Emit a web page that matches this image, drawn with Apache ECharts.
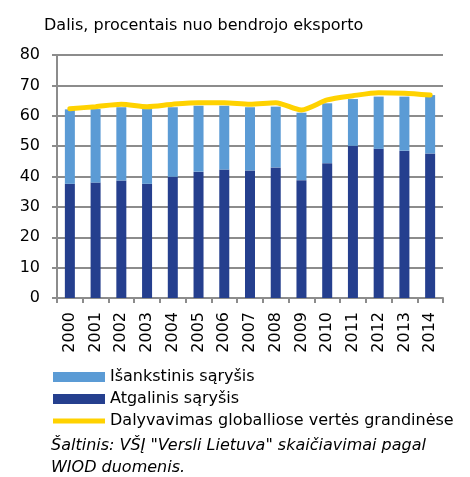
<!DOCTYPE html>
<html>
<head>
<meta charset="utf-8">
<script src="https://cdn.jsdelivr.net/npm/echarts@6/dist/echarts.min.js"></script>
<style>
  html, body { margin: 0; padding: 0; background: #fff; }
  #chart { width: 470px; height: 477px; }
</style>
</head>
<body>
<div id="chart"></div>
<script>
// metai
const years = ['2000','2001','2002','2003','2004','2005','2006','2007','2008','2009','2010','2011','2012','2013','2014'];
// atgalinis sąryšis (apačia)
const backward = [37.6, 38.0, 38.7, 37.6, 39.9, 41.6, 42.3, 42.0, 43.0, 38.8, 44.4, 50.1, 49.1, 48.5, 47.6];
// išankstinis sąryšis (viršus)
const forward = [24.5, 24.2, 24.1, 24.6, 22.9, 21.7, 21.0, 20.8, 20.0, 22.2, 19.7, 15.4, 17.2, 17.8, 19.2];
// dalyvavimas GVG
const participation = [62.3, 63.0, 63.8, 63.0, 63.8, 64.3, 64.3, 63.8, 64.3, 61.9, 65.2, 66.6, 67.6, 67.4, 66.8];
const yTicks = [0, 80, 10];

const font = 'DejaVu Sans';
// legendos linijos ikona (su tuščiu rėmu, kad nebūtų ištempta)
const lineIcon = 'path://M0,0h52v0.01h-52z M0,2.5h52v5h-52z M0,9.99h52v0.01h-52z';

const chart = echarts.init(document.getElementById('chart'));
chart.setOption({
  animation: false,
  textStyle: { fontFamily: font },
  title: [
    { text: 'Dalis, procentais nuo bendrojo eksporto', left: 39, top: 13,
      textStyle: { fontSize: 16, fontWeight: 'normal', color: '#000', fontFamily: font } },
    { text: 'Šaltinis: VŠĮ "Versli Lietuva" skaičiavimai pagal\nWIOD duomenis.', left: 46, top: 430,
      textStyle: { fontSize: 16, fontWeight: 'normal', fontStyle: 'italic', color: '#000', lineHeight: 22, fontFamily: font } }
  ],
  grid: { left: 57, right: 27, top: 55, bottom: 179 },
  legend: {
    orient: 'vertical', left: 48, top: 362, itemWidth: 52, itemHeight: 10, itemGap: 2,
    textStyle: { fontSize: 16, color: '#000', lineHeight: 20, fontFamily: font },
    data: [
      { name: 'Išankstinis sąryšis', icon: 'rect' },
      { name: 'Atgalinis sąryšis', icon: 'rect' },
      { name: 'Dalyvavimas globalliose vertės grandinėse', icon: lineIcon }
    ]
  },
  xAxis: {
    type: 'category', data: years,
    axisLine: { lineStyle: { color: '#8c8c8c', width: 2 } },
    axisTick: { show: true, length: 5, lineStyle: { color: '#8c8c8c', width: 2 } },
    axisLabel: { rotate: 90, fontSize: 16, color: '#000', margin: 14, fontFamily: font }
  },
  yAxis: {
    type: 'value', min: yTicks[0], max: yTicks[1], interval: yTicks[2],
    axisLine: { show: true, lineStyle: { color: '#8c8c8c', width: 2 } },
    axisTick: { show: true, length: 5, lineStyle: { color: '#8c8c8c', width: 2 } },
    axisLabel: { fontSize: 16, color: '#000', margin: 17, fontFamily: font },
    splitLine: { lineStyle: { color: '#8c8c8c', width: 2 } }
  },
  series: [
    { name: 'Atgalinis sąryšis', type: 'bar', stack: 'total', data: backward, barWidth: 10,
      itemStyle: { color: '#253f8e' } },
    { name: 'Išankstinis sąryšis', type: 'bar', stack: 'total', data: forward, barWidth: 10,
      itemStyle: { color: '#5b9bd5' } },
    { name: 'Dalyvavimas globalliose vertės grandinėse', type: 'line', data: participation,
      smooth: 0.25, symbol: 'none', z: 5,
      lineStyle: { color: '#ffd200', width: 5, cap: 'round' }, itemStyle: { color: '#ffd200' } }
  ]
});
</script>
</body>
</html>
